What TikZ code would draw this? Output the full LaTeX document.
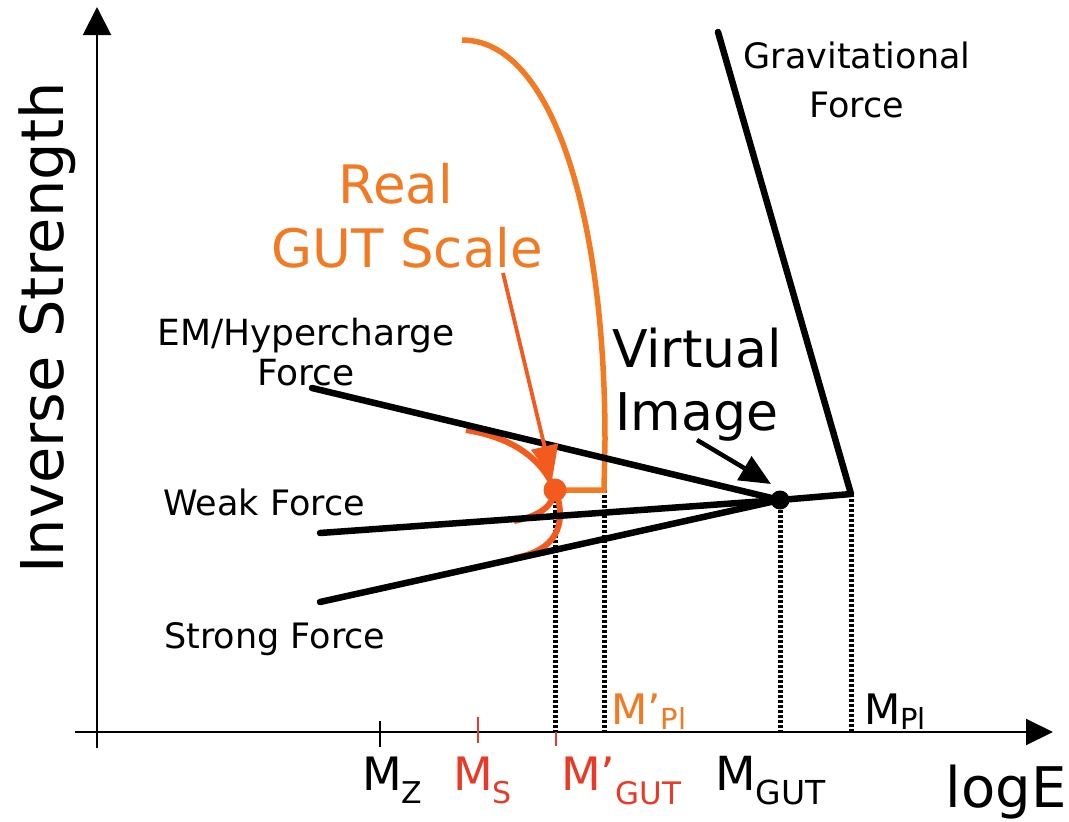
\documentclass[tikz,border=0pt]{standalone}
\usepackage{fontspec}
\setmainfont{DejaVu Sans}
\usetikzlibrary{arrows.meta}
\definecolor{orng}{RGB}{242,122,34}
\definecolor{rorng}{RGB}{243,90,30}
\definecolor{redm}{RGB}{232,58,38}
\newcommand\fsz[1]{\fontsize{#1}{#1}\selectfont}
\newcommand\lowsub[3]{\raisebox{-#1pt}{\fsz{#2}#3}}
\begin{document}
\begin{tikzpicture}[x=1pt,y=-1pt,
  lbl/.style={inner sep=0pt, anchor=base},
  lblw/.style={inner sep=0pt, anchor=base west},
  force/.style={line width=6.5pt, line cap=round},
  dots/.style={line width=5pt, dash pattern=on 3pt off 2pt},
  axisline/.style={line width=2pt},
  tick/.style={line width=1.6pt}]
\useasboundingbox (0,0) rectangle (1069,822);
\fill[white] (0,0) rectangle (1069,822);

% axes
\coordinate (ybot) at (97,748);
\coordinate (ytop) at (97,7);
\coordinate (xl) at (75,732);
\coordinate (xr) at (1053,732);
\draw[axisline,-{Triangle[length=28pt,width=28pt]}] (ybot) -- (ytop);
\draw[axisline,-{Triangle[length=27pt,width=26pt]}] (xl) -- (xr);

% ticks
\coordinate (tz1) at (380,721); \coordinate (tz2) at (380,747);
\coordinate (ts1) at (478,717); \coordinate (ts2) at (478,743);
\coordinate (tg1) at (556,732); \coordinate (tg2) at (556,746);
\draw[tick] (tz1) -- (tz2);
\draw[tick,redm] (ts1) -- (ts2);
\draw[tick,redm] (tg1) -- (tg2);

% key points
\coordinate (em0) at (312,388);
\coordinate (wk0) at (320,533);
\coordinate (st0) at (320,602);
\coordinate (vi) at (780,500);
\coordinate (pl) at (851,494);
\coordinate (gr) at (718,32);
\coordinate (aGUT) at (780,732);
\coordinate (aPl) at (851,732);
\coordinate (gp) at (555,490);
\coordinate (aGp) at (555,732);
\coordinate (pp) at (604,490);
\coordinate (aPp) at (604,732);

% dotted drop lines
\draw[dots] (gp) -- (aGp);
\draw[dots] (pp) -- (aPp);
\draw[dots] (vi) -- (aGUT);
\draw[dots] (pl) -- (aPl);

% orange real GUT curve
\draw[orng, line width=5.5pt] (462,40) .. controls (552,40) and (605,215) .. (605,440) -- (pp) -- (gp);

% red-orange fork curves
\draw[rorng, line width=6pt] (466,430) .. controls (515,438) and (542,460) .. (gp);
\draw[rorng, line width=6pt] (gp) .. controls (553,506) and (540,516) .. (514,521);
\draw[rorng, line width=6pt] (557,495) .. controls (566,525) and (556,551) .. (514,558);

% force lines
\draw[force] (em0) -- (vi);
\draw[force] (wk0) -- (vi);
\draw[force] (st0) -- (vi);
\draw[force, line join=round] (vi) -- (pl) -- (gr);

% dots
\node[circle, fill=black, minimum size=19pt, inner sep=0pt] (vdot) at (vi) {};
\node[circle, fill=rorng, minimum size=23pt, inner sep=0pt] (gdot) at (gp) {};

% arrows
\coordinate (rgs) at (503,273);
\draw[rorng, line width=3.8pt, -{Triangle[length=33pt,width=27pt]}] (rgs) -- (gdot);
\coordinate (vimg) at (697,440);
\coordinate (vtip) at (771,484);
\draw[line width=4.5pt, -{Triangle[length=31pt,width=27pt]}] (vimg) -- (vtip);

% texts
\node[lbl, rotate=90] (ylab) at (63,328) {\fsz{59}Inverse Strength};
\node[lbl] (logE) at (1006,807) {\fsz{56}logE};

\node[lbl] (em1) at (306,345) {\fsz{36}EM/Hypercharge};
\node[lbl] (em2) at (306,385) {\fsz{36}Force};
\node[lblw] (weak) at (163,515) {\fsz{35}Weak Force};
\node[lblw] (strong) at (164,648) {\fsz{35}Strong Force};
\node[lbl] (gr1) at (857,68) {\fsz{35}Gravitational};
\node[lbl] (gr2) at (857,117) {\fsz{35}Force};
\node[lbl] (vi1) at (697,367) {\fsz{52}Virtual};
\node[lbl] (vi2) at (697,430) {\fsz{52}Image};
\node[lbl, text=orng] (re1) at (396,203) {\fsz{53}Real};
\node[lbl, text=orng] (re2) at (407,267) {\fsz{53}GUT Scale};

% mass labels
\node[lblw] (mz) at (362,790) {\fsz{46}M\lowsub{13}{30}{Z}};
\node[lblw, text=redm] (ms) at (453,790) {\fsz{46}M\lowsub{13}{30}{S}};
\node[lblw, text=redm] (mgp) at (561,790) {\fsz{46}M’\lowsub{14}{31}{GUT}};
\node[lblw] (mg) at (715,790) {\fsz{47}M\lowsub{14}{33}{GUT}};
\node[lblw, text=orng] (mpp) at (611,724) {\fsz{42}M’\lowsub{5}{29}{Pl}};
\node[lblw] (mp) at (864,724) {\fsz{42}M\lowsub{5}{29}{Pl}};
\end{tikzpicture}
\end{document}
